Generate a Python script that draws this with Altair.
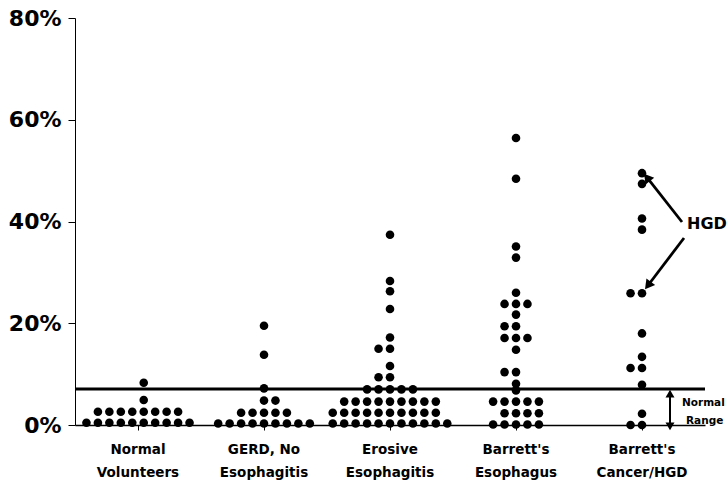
import math
import altair as alt
import pandas as pd

# ---------------- data ----------------
categories = [
    "Normal|Volunteers",
    "GERD, No|Esophagitis",
    "Erosive|Esophagitis",
    "Barrett's|Esophagus",
    "Barrett's|Cancer/HGD",
]

normal_values = [0.45] * 10 + [2.6] * 8 + [4.9, 8.3]
normal_slots = [-4.5, -3.5, -2.5, -1.5, -0.5, 0.5, 1.5, 2.5, 3.5, 4.5,
                -3.5, -2.5, -1.5, -0.5, 0.5, 1.5, 2.5, 3.5,
                0.5, 0.5]

gerd_values = [0.3] * 9 + [2.4] * 5 + [4.8] * 2 + [7.2, 13.8, 19.5]
gerd_slots = [-4, -3, -2, -1, 0, 1, 2, 3, 4,
              -2, -1, 0, 1, 2,
              0, 1,
              0, 0, 0]

erosive_values = ([0.3] * 11 + [2.4] * 10 + [4.6] * 9 + [7.0] * 5 + [9.4] * 2
                  + [11.6] + [15.0] * 2 + [17.2, 22.8, 26.3, 28.3, 37.4])
erosive_slots = ([-5, -4, -3, -2, -1, 0, 1, 2, 3, 4, 5]
                 + [-5, -4, -3, -2, -1, 0, 1, 2, 3, 4]
                 + [-4, -3, -2, -1, 0, 1, 2, 3, 4]
                 + [-2, -1, 0, 1, 2]
                 + [-1, 0]
                 + [0]
                 + [-1, 0]
                 + [0, 0, 0, 0, 0])

barrett_values = ([0.1] * 5 + [2.3] * 4 + [4.6] * 5 + [6.8, 8.1] + [10.4] * 2
                  + [14.8] + [17.1] * 3 + [19.4] * 2 + [21.7] + [23.8] * 3
                  + [26.0, 32.9, 35.1, 48.4, 56.4])
barrett_slots = ([-2, -1, 0, 1, 2]
                 + [-1, 0, 1, 2]
                 + [-2, -1, 0, 1, 2]
                 + [0, 0]
                 + [-1, 0]
                 + [0]
                 + [-1, 0, 1]
                 + [-1, 0]
                 + [0]
                 + [-1, 0, 1]
                 + [0, 0, 0, 0, 0])

cancer_values = [0.0, 0.0, 2.2, 7.9, 11.2, 11.2, 13.4, 18.0, 25.9, 25.9,
                 38.4, 40.6, 47.4, 49.5]
cancer_slots = [-1, 0, 0, 0, -1, 0, 0, 0, -1, 0, 0, 0, 0, 0]

normal_limit = [7.1]
y_ticks = [0, 20, 40, 60, 80]

rows = []
for cat, vals, slots in zip(
    categories,
    [normal_values, gerd_values, erosive_values, barrett_values, cancer_values],
    [normal_slots, gerd_slots, erosive_slots, barrett_slots, cancer_slots],
):
    for v, s in zip(vals, slots):
        rows.append({"group": cat, "value": v, "slot": s})
df = pd.DataFrame(rows)

W, H = 630, 407
FONT = "DejaVu Sans"

dots = alt.Chart(df).mark_circle(color="black", opacity=1, size=74).encode(
    x=alt.X(
        "group:N",
        sort=categories,
        scale=alt.Scale(paddingInner=0, paddingOuter=0),
        axis=alt.Axis(
            title=None,
            labelExpr="split(datum.label, '|')",
            labelAngle=0,
            labelFont=FONT,
            labelFontWeight="bold",
            labelFontSize=13.5,
            labelColor="black",
            labelLineHeight=23,
            labelPadding=12,
            tickSize=5,
            tickColor="black",
            tickWidth=1,
            domainColor="black",
            domainWidth=1.5,
        ),
    ),
    xOffset=alt.XOffset("slot:Q", scale=alt.Scale(domain=[-5.5, 5.5], nice=False, zero=False)),
    y=alt.Y(
        "value:Q",
        scale=alt.Scale(domain=[0, 80], nice=False),
        axis=alt.Axis(
            title=None,
            values=y_ticks,
            labelExpr="datum.value + '%'",
            labelFont=FONT,
            labelFontWeight="bold",
            labelFontSize=22,
            labelColor="black",
            labelPadding=7,
            tickSize=7,
            tickColor="black",
            domainColor="black",
            domainWidth=1,
            grid=False,
        ),
    ),
)

limit_rule = alt.Chart(pd.DataFrame({"limit": normal_limit})).mark_rule(
    color="black", strokeWidth=3
).encode(y="limit:Q", x=alt.value(0), x2=alt.value(W))

one = pd.DataFrame({"a": [0]})


def arrow(x0, y0, x1, y1, size=120, width=2.8):
    dx, dy = x1 - x0, y1 - y0
    L = math.hypot(dx, dy)
    ux, uy = dx / L, dy / L
    h = math.sqrt(3) / 4 * math.sqrt(size)
    cx, cy = x1 - ux * h, y1 - uy * h
    ang = math.degrees(math.atan2(ux, -uy)) % 360
    shaft = alt.Chart(one).mark_rule(color="black", strokeWidth=width).encode(
        x=alt.value(x0), y=alt.value(y0), x2=alt.value(cx), y2=alt.value(cy)
    )
    head = alt.Chart(one).mark_point(
        shape="triangle", filled=True, color="black", opacity=1, size=size, angle=ang
    ).encode(x=alt.value(cx), y=alt.value(cy))
    return [shaft, head]


def label(txt, x, y, size):
    return alt.Chart(one).mark_text(
        text=txt, font=FONT, fontWeight="bold", fontSize=size,
        align="left", baseline="middle", color="black"
    ).encode(x=alt.value(x), y=alt.value(y))


annotations = []
annotations += arrow(607, 204, 570, 157)
annotations += arrow(609, 220, 571, 270)
annotations += arrow(595, 392, 595, 373, size=80, width=2)
annotations += arrow(595, 392, 595, 411, size=80, width=2)
annotations.append(label("HGD", 612, 206, 16))
annotations.append(label("Normal", 607, 385, 10.5))
annotations.append(label("Range", 611, 403, 10.5))

chart = alt.layer(dots, limit_rule, *annotations).properties(
    width=W,
    height=H,
    padding={"left": 75, "top": 18, "right": 23, "bottom": 57},
    autosize=alt.AutoSizeParams(type="none"),
    background="white",
).configure_view(stroke=None)

chart.save("out.html", embed_options={"renderer": "svg", "actions": False})
